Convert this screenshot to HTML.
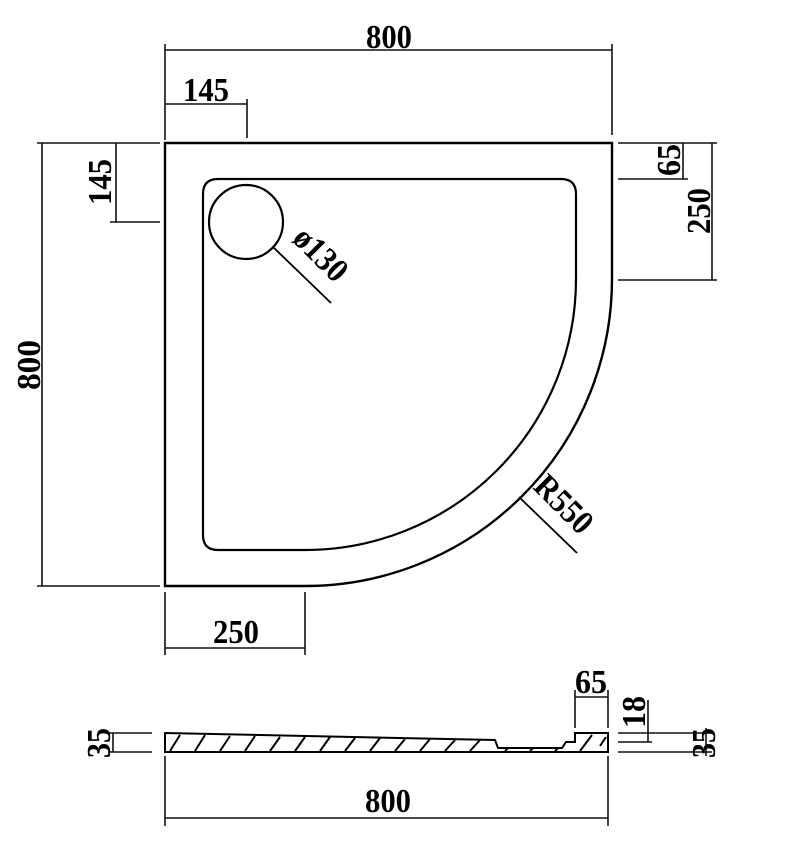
<!DOCTYPE html>
<html><head><meta charset="utf-8"><style>body{margin:0;background:#fff}svg{display:block}text{font-family:"Liberation Serif",serif;font-size:34px;font-weight:bold;fill:#000}</style></head><body>
<svg width="800" height="848" viewBox="0 0 800 848" xmlns="http://www.w3.org/2000/svg">
<g fill="none" stroke="#000" stroke-width="2.4">
<path d="M165,143 L612,143 L612,279 A307,307 0 0 1 305,586 L165,586 Z"/>
<path d="M218,179 L561,179 Q576,179 576,194 L576,279 A271,271 0 0 1 305,550 L218,550 Q203,550 203,535 L203,194 Q203,179 218,179 Z" stroke-width="2.2"/>
<circle cx="246" cy="222" r="37" stroke-width="2.2"/>
<line x1="273" y1="247" x2="331" y2="303" stroke-width="1.8"/>
<line x1="519" y1="497" x2="577" y2="553" stroke-width="1.8"/>
</g>
<g fill="none" stroke="#111" stroke-width="1.6">
<line x1="165" y1="44" x2="165" y2="140"/><line x1="612" y1="44" x2="612" y2="135"/>
<line x1="165" y1="50" x2="612" y2="50"/>
<line x1="247" y1="99" x2="247" y2="138"/><line x1="165" y1="104" x2="247" y2="104"/>
<line x1="110" y1="143" x2="160" y2="143"/><line x1="110" y1="222" x2="160" y2="222"/><line x1="116" y1="143" x2="116" y2="222"/>
<line x1="37" y1="143" x2="110" y2="143"/><line x1="37" y1="586" x2="160" y2="586"/><line x1="42" y1="143" x2="42" y2="586"/>
<line x1="618" y1="143" x2="717" y2="143"/><line x1="618" y1="179" x2="688" y2="179"/><line x1="618" y1="280" x2="717" y2="280"/>
<line x1="683" y1="143" x2="683" y2="179"/><line x1="712" y1="143" x2="712" y2="280"/>
<line x1="165" y1="592" x2="165" y2="655"/><line x1="305" y1="592" x2="305" y2="655"/><line x1="165" y1="648" x2="305" y2="648"/>
<line x1="108" y1="733" x2="152" y2="733"/><line x1="108" y1="752" x2="152" y2="752"/><line x1="113" y1="733" x2="113" y2="752"/>
<line x1="618" y1="733" x2="712" y2="733"/><line x1="618" y1="752" x2="712" y2="752"/><line x1="618" y1="742" x2="652" y2="742"/>
<line x1="706" y1="728" x2="706" y2="756"/><line x1="648" y1="700" x2="648" y2="742"/>
<line x1="575" y1="690" x2="575" y2="728"/><line x1="608" y1="690" x2="608" y2="728"/><line x1="575" y1="697" x2="608" y2="697"/>
<line x1="165" y1="756" x2="165" y2="826"/><line x1="608" y1="756" x2="608" y2="826"/><line x1="165" y1="818" x2="608" y2="818"/>
</g>
<g fill="none" stroke="#000" stroke-width="2">
<path d="M165,733 L495,740 L498,748 L562,748 L566,742 L575,742 L575,733 L608,733 L608,752 L165,752 Z"/>
<path d="M170,751 L180,735 M195,751 L205,735 M220,751 L230,736 M245,751 L255,736 M270,751 L280,737 M295,751 L305,737 M320,751 L330,737 M345,751 L355,738 M370,751 L380,738 M395,751 L405,739 M420,751 L430,739 M445,751 L455,740 M470,751 L480,740 M505,751 L508,748 M530,751 L533,748 M555,751 L558,748 M580,751 L592,735 M600,746 L606,737"/>
</g>
<g>
<text x="389" y="48" text-anchor="middle" textLength="46" lengthAdjust="spacingAndGlyphs">800</text>
<text x="206" y="101" text-anchor="middle" textLength="46" lengthAdjust="spacingAndGlyphs">145</text>
<text transform="translate(111,182) rotate(-90)" text-anchor="middle" textLength="46" lengthAdjust="spacingAndGlyphs">145</text>
<text transform="translate(40,365) rotate(-90)" text-anchor="middle" textLength="50" lengthAdjust="spacingAndGlyphs">800</text>
<text transform="translate(680,160) rotate(-90)" text-anchor="middle" textLength="32" lengthAdjust="spacingAndGlyphs">65</text>
<text transform="translate(710,211) rotate(-90)" text-anchor="middle" textLength="46" lengthAdjust="spacingAndGlyphs">250</text>
<text x="236" y="643" text-anchor="middle" textLength="46" lengthAdjust="spacingAndGlyphs">250</text>
<text transform="translate(313,262) rotate(45)" text-anchor="middle" textLength="62" lengthAdjust="spacingAndGlyphs">ø130</text>
<text transform="translate(556,512) rotate(45)" text-anchor="middle" textLength="68" lengthAdjust="spacingAndGlyphs">R550</text>
<text x="591" y="693" text-anchor="middle" textLength="32" lengthAdjust="spacingAndGlyphs">65</text>
<text transform="translate(645,712) rotate(-90)" text-anchor="middle" textLength="32" lengthAdjust="spacingAndGlyphs">18</text>
<text transform="translate(110,743) rotate(-90)" text-anchor="middle" textLength="30" lengthAdjust="spacingAndGlyphs">35</text>
<text transform="translate(715,743) rotate(-90)" text-anchor="middle" textLength="30" lengthAdjust="spacingAndGlyphs">35</text>
<text x="388" y="812" text-anchor="middle" textLength="46" lengthAdjust="spacingAndGlyphs">800</text>
</g>
</svg>
</body></html>
